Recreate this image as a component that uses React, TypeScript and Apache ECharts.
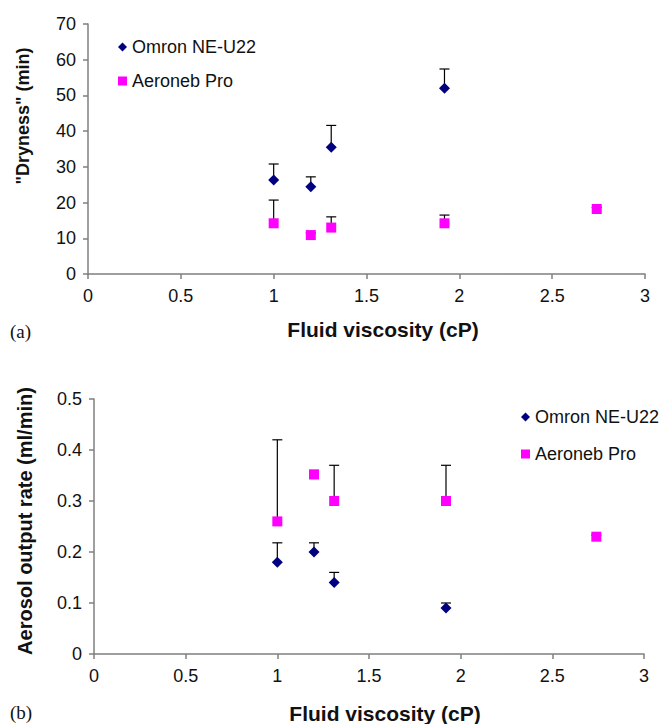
import React, { useEffect, useRef } from "react";
import * as echarts from "echarts";

// ---- data ----
const viscosity = [1, 1.2, 1.31, 1.92, 2.74];
const omronViscosity = [1, 1.2, 1.31, 1.92];

const omronDryness = [26.3, 24.4, 35.5, 52];
const omronDrynessErr = [4.5, 2.8, 6.1, 5.4];
const aeronebDryness = [14.2, 10.9, 13, 14.2, 18.2];
const aeronebDrynessErr = [6.5, 0.6, 3, 2.3, 0.4];

const omronRate = [0.18, 0.2, 0.14, 0.09];
const omronRateErr = [0.038, 0.018, 0.02, 0.01];
const aeronebRate = [0.26, 0.352, 0.3, 0.3, 0.23];
const aeronebRateErr = [0.16, 0.008, 0.07, 0.07, 0.003];

const seriesNames = ["Omron NE-U22", "Aeroneb Pro"];
const xTitle = "Fluid viscosity (cP)";
const yTitleA = '"Dryness" (min)';
const yTitleB = "Aerosol output rate (ml/min)";

const NAVY = "#000080";
const MAGENTA = "#FF00FF";
const AXIS = "#7f7f7f";
const FONT = "'Liberation Sans', Arial, sans-serif";

function pts(xs: number[], ys: number[]) {
  return xs.map((x, i) => [x, ys[i]]);
}
function errPts(xs: number[], ys: number[], es: number[]) {
  return xs.map((x, i) => [x, ys[i], ys[i] + es[i]]);
}

const errRender = (params: any, api: any) => {
  const x = api.value(0);
  const y = api.value(1);
  const top = api.value(2);
  const p0 = api.coord([x, y]);
  const p1 = api.coord([x, top]);
  const style = { stroke: "#000", lineWidth: 1.2 };
  return {
    type: "group",
    children: [
      { type: "line", shape: { x1: p0[0], y1: p0[1], x2: p1[0], y2: p1[1] }, style },
      { type: "line", shape: { x1: p1[0] - 5, y1: p1[1], x2: p1[0] + 5, y2: p1[1] }, style },
    ],
  };
};

export default function App() {
  const ref = useRef<HTMLDivElement>(null);
  useEffect(() => {
    if (!ref.current) return;
    const chart = echarts.init(ref.current, null, { renderer: "svg" });

    const xAxisBase = (gridIndex: number) => ({
      type: "value",
      gridIndex,
      min: 0,
      max: 3,
      interval: 0.5,
      splitLine: { show: false },
      axisLine: { lineStyle: { color: AXIS, width: 1.5 } },
      axisTick: { lineStyle: { color: AXIS, width: 1.5 }, length: 5 },
      axisLabel: { color: "#111", fontSize: 18, fontFamily: FONT, margin: 13 },
    });
    const yAxisBase = (gridIndex: number, max: number, interval: number) => ({
      type: "value",
      gridIndex,
      min: 0,
      max,
      interval,
      splitLine: { show: false },
      axisLine: { show: true, lineStyle: { color: AXIS, width: 1.5 } },
      axisTick: { show: true, lineStyle: { color: AXIS, width: 1.5 }, length: 5 },
      axisLabel: { color: "#111", fontSize: 18, fontFamily: FONT, margin: 12 },
    });

    const textStyle = (extra: any) => ({
      fill: "#111",
      fontFamily: FONT,
      fontWeight: "bold",
      ...extra,
    });

    const legendText = { color: "#111", fontSize: 18, fontFamily: FONT };

    chart.setOption({
      animation: false,
      backgroundColor: "#fff",
      grid: [
        { left: 88, right: 15, top: 24, bottom: 450 },
        { left: 94, right: 16, top: 399, bottom: 70 },
      ],
      xAxis: [xAxisBase(0), xAxisBase(1)],
      yAxis: [yAxisBase(0, 70, 10), yAxisBase(1, 0.5, 0.1)],
      legend: [
        {
          data: seriesNames,
          orient: "vertical",
          left: 113,
          top: 33,
          itemWidth: 9,
          itemHeight: 9,
          itemGap: 16,
          textStyle: legendText,
        },
        {
          data: seriesNames,
          orient: "vertical",
          left: 516,
          top: 403,
          itemWidth: 9,
          itemHeight: 9,
          itemGap: 19,
          textStyle: legendText,
        },
      ],
      series: [
        {
          type: "custom",
          xAxisIndex: 0,
          yAxisIndex: 0,
          renderItem: errRender,
          data: errPts(omronViscosity, omronDryness, omronDrynessErr),
          encode: { x: 0, y: [1, 2] },
          z: 1,
          silent: true,
        },
        {
          type: "custom",
          xAxisIndex: 0,
          yAxisIndex: 0,
          renderItem: errRender,
          data: errPts(viscosity, aeronebDryness, aeronebDrynessErr),
          encode: { x: 0, y: [1, 2] },
          z: 1,
          silent: true,
        },
        {
          type: "custom",
          xAxisIndex: 1,
          yAxisIndex: 1,
          renderItem: errRender,
          data: errPts(omronViscosity, omronRate, omronRateErr),
          encode: { x: 0, y: [1, 2] },
          z: 1,
          silent: true,
        },
        {
          type: "custom",
          xAxisIndex: 1,
          yAxisIndex: 1,
          renderItem: errRender,
          data: errPts(viscosity, aeronebRate, aeronebRateErr),
          encode: { x: 0, y: [1, 2] },
          z: 1,
          silent: true,
        },
        {
          name: seriesNames[0],
          type: "scatter",
          xAxisIndex: 0,
          yAxisIndex: 0,
          symbol: "diamond",
          symbolSize: 11,
          itemStyle: { color: NAVY, opacity: 1 },
          data: pts(omronViscosity, omronDryness),
          z: 3,
        },
        {
          name: seriesNames[1],
          type: "scatter",
          xAxisIndex: 0,
          yAxisIndex: 0,
          symbol: "rect",
          symbolSize: 10,
          itemStyle: { color: MAGENTA, opacity: 1 },
          data: pts(viscosity, aeronebDryness),
          z: 3,
        },
        {
          name: seriesNames[0],
          type: "scatter",
          xAxisIndex: 1,
          yAxisIndex: 1,
          symbol: "diamond",
          symbolSize: 11,
          itemStyle: { color: NAVY, opacity: 1 },
          data: pts(omronViscosity, omronRate),
          z: 3,
        },
        {
          name: seriesNames[1],
          type: "scatter",
          xAxisIndex: 1,
          yAxisIndex: 1,
          symbol: "rect",
          symbolSize: 10,
          itemStyle: { color: MAGENTA, opacity: 1 },
          data: pts(viscosity, aeronebRate),
          z: 3,
        },
      ],
      graphic: [
        {
          type: "text",
          x: 383,
          y: 329,
          style: textStyle({ text: xTitle, fontSize: 21, align: "center", verticalAlign: "middle" }),
        },
        {
          type: "text",
          x: 385,
          y: 713,
          style: textStyle({ text: xTitle, fontSize: 21, align: "center", verticalAlign: "middle" }),
        },
        {
          type: "text",
          x: 23,
          y: 116,
          rotation: Math.PI / 2,
          style: textStyle({ text: yTitleA, fontSize: 18, align: "center", verticalAlign: "middle" }),
        },
        {
          type: "text",
          x: 25,
          y: 521,
          rotation: Math.PI / 2,
          style: textStyle({ text: yTitleB, fontSize: 20, align: "center", verticalAlign: "middle" }),
        },
        {
          type: "text",
          x: 10,
          y: 331,
          style: {
            text: "(a)",
            fill: "#111",
            fontFamily: "'Liberation Serif', 'Times New Roman', serif",
            fontSize: 19,
            verticalAlign: "middle",
          },
        },
        {
          type: "text",
          x: 10,
          y: 712,
          style: {
            text: "(b)",
            fill: "#111",
            fontFamily: "'Liberation Serif', 'Times New Roman', serif",
            fontSize: 19,
            verticalAlign: "middle",
          },
        },
      ],
    });
    return () => chart.dispose();
  }, []);

  return (
    <div
      ref={ref}
      style={{ position: "fixed", left: 0, top: 0, width: 660, height: 724, background: "#fff" }}
    />
  );
}
